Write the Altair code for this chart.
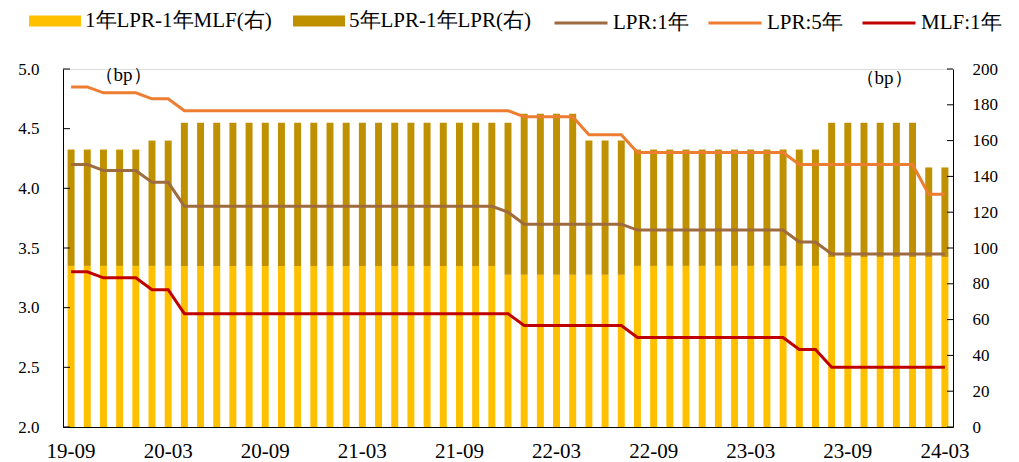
import altair as alt
import pandas as pd

months = [
    "19-09", "19-10", "19-11", "19-12",
    "20-01", "20-02", "20-03", "20-04", "20-05", "20-06", "20-07", "20-08", "20-09", "20-10", "20-11", "20-12",
    "21-01", "21-02", "21-03", "21-04", "21-05", "21-06", "21-07", "21-08", "21-09", "21-10", "21-11", "21-12",
    "22-01", "22-02", "22-03", "22-04", "22-05", "22-06", "22-07", "22-08", "22-09", "22-10", "22-11", "22-12",
    "23-01", "23-02", "23-03", "23-04", "23-05", "23-06", "23-07", "23-08", "23-09", "23-10", "23-11", "23-12",
    "24-01", "24-02", "24-03",
]

lpr_1y = [
    4.20, 4.20, 4.15, 4.15,
    4.15, 4.05, 4.05, 3.85, 3.85, 3.85, 3.85, 3.85, 3.85, 3.85, 3.85, 3.85,
    3.85, 3.85, 3.85, 3.85, 3.85, 3.85, 3.85, 3.85, 3.85, 3.85, 3.85, 3.80,
    3.70, 3.70, 3.70, 3.70, 3.70, 3.70, 3.70, 3.65, 3.65, 3.65, 3.65, 3.65,
    3.65, 3.65, 3.65, 3.65, 3.65, 3.55, 3.55, 3.45, 3.45, 3.45, 3.45, 3.45,
    3.45, 3.45, 3.45,
]
lpr_5y = [
    4.85, 4.85, 4.80, 4.80,
    4.80, 4.75, 4.75, 4.65, 4.65, 4.65, 4.65, 4.65, 4.65, 4.65, 4.65, 4.65,
    4.65, 4.65, 4.65, 4.65, 4.65, 4.65, 4.65, 4.65, 4.65, 4.65, 4.65, 4.65,
    4.60, 4.60, 4.60, 4.60, 4.45, 4.45, 4.45, 4.30, 4.30, 4.30, 4.30, 4.30,
    4.30, 4.30, 4.30, 4.30, 4.30, 4.20, 4.20, 4.20, 4.20, 4.20, 4.20, 4.20,
    4.20, 3.95, 3.95,
]
mlf_1y = [
    3.30, 3.30, 3.25, 3.25,
    3.25, 3.15, 3.15, 2.95, 2.95, 2.95, 2.95, 2.95, 2.95, 2.95, 2.95, 2.95,
    2.95, 2.95, 2.95, 2.95, 2.95, 2.95, 2.95, 2.95, 2.95, 2.95, 2.95, 2.95,
    2.85, 2.85, 2.85, 2.85, 2.85, 2.85, 2.85, 2.75, 2.75, 2.75, 2.75, 2.75,
    2.75, 2.75, 2.75, 2.75, 2.75, 2.65, 2.65, 2.50, 2.50, 2.50, 2.50, 2.50,
    2.50, 2.50, 2.50,
]
spread_lpr1_mlf = [
    90, 90, 90, 90,
    90, 90, 90, 90, 90, 90, 90, 90, 90, 90, 90, 90,
    90, 90, 90, 90, 90, 90, 90, 90, 90, 90, 90, 85,
    85, 85, 85, 85, 85, 85, 85, 90, 90, 90, 90, 90,
    90, 90, 90, 90, 90, 90, 90, 95, 95, 95, 95, 95,
    95, 95, 95,
]
spread_lpr5_lpr1 = [
    65, 65, 65, 65,
    65, 70, 70, 80, 80, 80, 80, 80, 80, 80, 80, 80,
    80, 80, 80, 80, 80, 80, 80, 80, 80, 80, 80, 85,
    90, 90, 90, 90, 75, 75, 75, 65, 65, 65, 65, 65,
    65, 65, 65, 65, 65, 65, 65, 75, 75, 75, 75, 75,
    75, 50, 50,
]

bar_names = ["1年LPR-1年MLF(右)", "5年LPR-1年LPR(右)"]
line_names = ["LPR:1年", "LPR:5年", "MLF:1年"]
x_tick_labels = ["19-09", "20-03", "20-09", "21-03", "21-09", "22-03", "22-09", "23-03", "23-09", "24-03"]
left_ticks = [2.0, 2.5, 3.0, 3.5, 4.0, 4.5, 5.0]
right_ticks = [0, 20, 40, 60, 80, 100, 120, 140, 160, 180, 200]
unit_label = ["（bp）"]

bar_colors = ["#FFC000", "#BF9000"]
line_colors = ["#9E6B3E", "#ED7D31", "#C00000"]

W, H = 890, 358
SERIF = "Liberation Serif"

bar_rows = []
for i, m in enumerate(months):
    bar_rows.append({"month": m, "series": bar_names[0], "ord": 0, "value": spread_lpr1_mlf[i]})
    bar_rows.append({"month": m, "series": bar_names[1], "ord": 1, "value": spread_lpr5_lpr1[i]})
bar_df = pd.DataFrame(bar_rows)

line_rows = []
for i, m in enumerate(months):
    line_rows.append({"month": m, "line": line_names[0], "rate": lpr_1y[i]})
    line_rows.append({"month": m, "line": line_names[1], "rate": lpr_5y[i]})
    line_rows.append({"month": m, "line": line_names[2], "rate": mlf_1y[i]})
line_df = pd.DataFrame(line_rows)

x_enc = alt.X(
    "month:O",
    sort=months,
    scale=alt.Scale(paddingInner=0.57, paddingOuter=0.285),
    axis=alt.Axis(values=x_tick_labels, labelAngle=0, ticks=False, title=None,
                  labelFontSize=21, labelPadding=13, labelFont=SERIF,
                  domainColor="black", labelColor="black"),
)


def right_y(field):
    return alt.Y(field, stack="zero" if field == "value:Q" else None,
                 scale=alt.Scale(domain=[0, 200], nice=False, zero=True),
                 axis=alt.Axis(orient="right", values=right_ticks, ticks=False, title=None,
                               labelFontSize=17, labelPadding=19, labelFont=SERIF,
                               domainColor="black", labelColor="black", grid=False))


def left_y(field):
    return alt.Y(field,
                 scale=alt.Scale(domain=[2.0, 5.0], nice=False, zero=False),
                 axis=alt.Axis(orient="left", values=left_ticks, format=".1f", ticks=False, title=None,
                               labelFontSize=17, labelPadding=24, labelFont=SERIF,
                               domainColor="black", labelColor="black", grid=False))


bars = alt.Chart(bar_df).mark_bar().encode(
    x=x_enc,
    y=right_y("value:Q"),
    color=alt.Color("series:N", sort=bar_names,
                    scale=alt.Scale(domain=bar_names, range=bar_colors),
                    legend=alt.Legend(orient="none", legendX=-34, legendY=-74, direction="horizontal",
                                      title=None, symbolType="M-1,-0.21L1,-0.21L1,0.21L-1,0.21Z",
                                      symbolSize=2704, symbolStrokeWidth=0, labelFontSize=21,
                                      labelFont=SERIF, labelLimit=400, columnPadding=21,
                                      labelOffset=4, labelColor="black")),
    order=alt.Order("ord:Q"),
)

right_tick_df = pd.DataFrame({"v": right_ticks})
right_tick_rules = alt.Chart(right_tick_df).mark_rule(color="black", strokeWidth=1).encode(
    y=right_y("v:Q"), x=alt.value(W - 6), x2=alt.value(W)
)
bp_right = alt.Chart(pd.DataFrame({"t": unit_label})).mark_text(
    font=SERIF, fontSize=19, color="black"
).encode(text="t:N", x=alt.value(821), y=alt.value(9))

lines = alt.Chart(line_df).mark_line(strokeWidth=3).encode(
    x=x_enc,
    y=left_y("rate:Q"),
    stroke=alt.Stroke("line:N", sort=line_names,
                      scale=alt.Scale(domain=line_names, range=line_colors),
                      legend=alt.Legend(orient="none", legendX=490, legendY=-74, direction="horizontal",
                                        title=None, symbolType="stroke", symbolSize=2809,
                                        symbolStrokeWidth=3, labelFontSize=21, labelFont=SERIF,
                                        labelLimit=400, columnPadding=13, labelOffset=4,
                                        labelColor="black")),
)

left_tick_df = pd.DataFrame({"v": left_ticks})
left_tick_rules = alt.Chart(left_tick_df).mark_rule(color="black", strokeWidth=1).encode(
    y=left_y("v:Q"), x=alt.value(0), x2=alt.value(7)
)
bp_left = alt.Chart(pd.DataFrame({"t": unit_label})).mark_text(
    font=SERIF, fontSize=19, color="black"
).encode(text="t:N", x=alt.value(60), y=alt.value(6))

right_layer = alt.layer(bars, right_tick_rules, bp_right)
left_layer = alt.layer(lines, left_tick_rules, bp_left)

chart = alt.layer(right_layer, left_layer).resolve_scale(y="independent").properties(
    width=W, height=H,
    autosize=alt.AutoSizeParams(type="none"),
    padding={"left": 55, "top": 61, "right": 58, "bottom": 44},
).configure_view(stroke=None).configure(background="white", font=SERIF)

chart.save("out.html", embed_options={"renderer": "svg", "actions": False})
